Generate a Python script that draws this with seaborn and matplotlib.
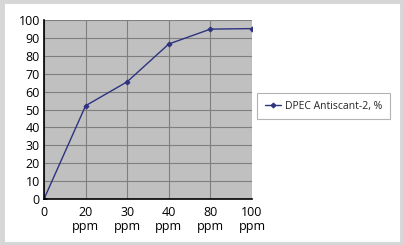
import matplotlib
matplotlib.use("Agg")
import matplotlib.pyplot as plt
import seaborn as sns
import pandas as pd
from matplotlib.patches import Rectangle

categories = ["0", "20\nppm", "30\nppm", "40\nppm", "80\nppm", "100\nppm"]
values = [0, 52.1, 65.5, 86.6, 94.9, 95.2]
series_name = "DPEC Antiscant-2, %"
yticks = list(range(0, 101, 10))

df = pd.DataFrame({"dose": categories, "val": values})

sns.set_style("white")
plt.rcParams["font.family"] = ["Open Sans", "DejaVu Sans"]

fig = plt.figure(figsize=(4.04, 2.45), dpi=100)
fig.patch.set_facecolor("white")
# outer frame
fig.patches.append(Rectangle((0.004, 0.006), 0.992, 0.988, transform=fig.transFigure,
                             fill=False, edgecolor="#d6d6d6", linewidth=3.5))

ax = fig.add_axes([44/404, 1-199/245, (252-44)/404, (199-20)/245])
ax.set_facecolor("#c0c0c0")

sns.lineplot(data=df, x="dose", y="val", ax=ax, color="#2e3280", linewidth=1.0,
             marker="D", markersize=2.5, markeredgecolor="#2e3280", label=series_name,
             sort=False)

ax.set_xlim(0, len(categories) - 1)
ax.set_ylim(0, 100)
ax.set_yticks(yticks)
ax.set_yticklabels([str(t) for t in yticks])
ax.set_xticks(range(len(categories)))
ax.set_xticklabels(categories, linespacing=1.15)
ax.grid(True, color="#7f7f7f", linewidth=0.8)
ax.set_axisbelow(True)
ax.tick_params(axis="both", labelsize=9, length=0, colors="black")
ax.tick_params(axis="x", pad=5)
ax.tick_params(axis="y", pad=3)
ax.set_xlabel("")
ax.set_ylabel("")
for s in ["top", "right"]:
    ax.spines[s].set_visible(False)
for s in ["left", "bottom"]:
    ax.spines[s].set_color("black")
    ax.spines[s].set_linewidth(1.2)

leg = ax.legend(loc="center left", bbox_to_anchor=(257/404, 1-106/245), bbox_transform=fig.transFigure,
                frameon=True, fancybox=False, fontsize=7.5, handlelength=1.6, handletextpad=0.3,
                borderpad=0.75, borderaxespad=0)
leg.get_frame().set_edgecolor("#a0a0a0")
leg.get_frame().set_linewidth(0.8)

fig.savefig("out.png", dpi=100)
